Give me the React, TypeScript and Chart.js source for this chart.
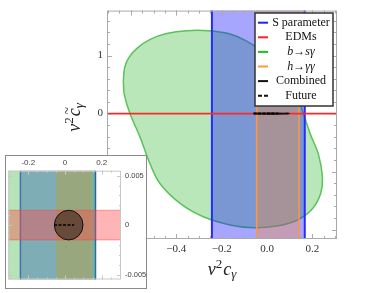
import React, { useEffect, useRef } from "react";
import { Chart, registerables } from "chart.js";

Chart.register(...registerables);

// ---------------- data ----------------
// b -> s gamma allowed region (closed boundary)
const greenX = [
  -0.633, -0.627, -0.608, -0.572, -0.515, -0.442, -0.354, -0.26, -0.17, -0.09,
  -0.01, 0.07, 0.125, 0.156, 0.19, 0.226, 0.244, 0.236, 0.2, 0.131,
  0.043, -0.06, -0.163, -0.281, -0.383, -0.471, -0.515, -0.559, -0.604, -0.629,
  -0.633,
];
const greenY = [
  0.56, 0.8, 0.97, 1.13, 1.28, 1.38, 1.43, 1.43, 1.38, 1.25,
  1.04, 0.75, 0.42, 0.05, -0.35, -0.7, -1.1, -1.38, -1.64, -1.84,
  -1.94, -1.97, -1.92, -1.78, -1.55, -1.21, -0.87, -0.41, 0.0, 0.33,
  0.56,
];
const sParamRange = [-0.243, 0.166];
const hggRange = [-0.046, 0.141];
const edmRange = [-0.0015, 0.0015];
const combinedCenter = [0.02, 0];
const combinedRadius = [0.078, 0.0015];
const futureX = [-0.06, 0.05];
const futureY = [0, 0];

const legendLabels = ["S parameter", "EDMs", "b\u2192s\u03B3", "h\u2192\u03B3\u03B3", "Combined", "Future"];
const legendItalic = [false, false, true, true, false, false];
const legendColors = ["#2020ff", "#ff2020", "#22bb22", "#ff9933", "#111111", "#111111"];
const legendDashed = [false, false, false, false, false, true];

const mainXTicks = [-0.6, -0.4, -0.2, 0, 0.2];
const mainXTickLabels = ["\u22120.6", "\u22120.4", "\u22120.2", "0.0", "0.2"];
const mainYTicks = [-2, -1, 0, 1];
const mainYTickLabels = ["\u22122", "\u22121", "0", "1"];
const insetXTicks = [-0.2, 0, 0.2];
const insetXTickLabels = ["-0.2", "0", "0.2"];
const insetYTicks = [-0.005, 0, 0.005];
const insetYTickLabels = ["-0.005", "0", "0.005"];

// ---------------- helpers ----------------
const BIG = 50;
function band(r: number[]) {
  return [
    { x: r[0], y: -BIG },
    { x: r[0], y: BIG },
    { x: r[1], y: BIG },
    { x: r[1], y: -BIG },
    { x: r[0], y: -BIG },
  ];
}
function hband(r: number[]) {
  return [
    { x: -BIG, y: r[0] },
    { x: BIG, y: r[0] },
    { x: BIG, y: r[1] },
    { x: -BIG, y: r[1] },
    { x: -BIG, y: r[0] },
  ];
}
function steps(a: number, b: number, s: number) {
  const out: number[] = [];
  const n = Math.round((b - a) / s);
  for (let i = 0; i <= n; i++) out.push(a + i * s);
  return out;
}
const greenPts = greenX.map((x, i) => ({ x, y: greenY[i] }));

function drawFrame(chart: any, o: any) {
  const { ctx, chartArea: a, scales } = chart;
  const x = scales.x, y = scales.y;
  ctx.save();
  ctx.strokeStyle = o.color;
  ctx.lineWidth = 1;
  ctx.strokeRect(a.left + 0.5, a.top + 0.5, a.width - 1, a.height - 1);
  ctx.beginPath();
  const tx = (vals: number[], len: number) => {
    for (const v of vals) {
      const p = Math.round(x.getPixelForValue(v)) + 0.5;
      if (p < a.left + 1 || p > a.right - 1) continue;
      ctx.moveTo(p, a.bottom);
      ctx.lineTo(p, a.bottom - len);
      ctx.moveTo(p, a.top);
      ctx.lineTo(p, a.top + len);
    }
  };
  const ty = (vals: number[], len: number) => {
    for (const v of vals) {
      const p = Math.round(y.getPixelForValue(v)) + 0.5;
      if (p < a.top + 1 || p > a.bottom - 1) continue;
      ctx.moveTo(a.left, p);
      ctx.lineTo(a.left + len, p);
      ctx.moveTo(a.right, p);
      ctx.lineTo(a.right - len, p);
    }
  };
  tx(o.xMajor, o.major);
  tx(o.xMinor, o.minor);
  ty(o.yMajor, o.major);
  ty(o.yMinor, o.minor);
  ctx.stroke();
  ctx.restore();
}

function drawCombined(chart: any, lw: number, dashW: number, fill: string) {
  const { ctx, chartArea: a, scales } = chart;
  const x = scales.x, y = scales.y;
  ctx.save();
  ctx.beginPath();
  ctx.rect(a.left, a.top, a.width, a.height);
  ctx.clip();
  const cx = x.getPixelForValue(combinedCenter[0]);
  const cy = y.getPixelForValue(combinedCenter[1]);
  const rx = Math.abs(x.getPixelForValue(combinedCenter[0] + combinedRadius[0]) - cx);
  const ry = Math.max(0.05, Math.abs(y.getPixelForValue(combinedCenter[1] + combinedRadius[1]) - cy));
  ctx.beginPath();
  ctx.ellipse(cx, cy, rx, ry, 0, 0, Math.PI * 2);
  ctx.fillStyle = fill;
  ctx.fill();
  ctx.lineWidth = lw;
  ctx.strokeStyle = "#111";
  ctx.stroke();
  ctx.setLineDash([3, 1.5]);
  ctx.beginPath();
  ctx.moveTo(x.getPixelForValue(futureX[0]), y.getPixelForValue(futureY[0]));
  ctx.lineTo(x.getPixelForValue(futureX[1]), y.getPixelForValue(futureY[1]));
  ctx.lineWidth = dashW;
  ctx.strokeStyle = "#000";
  ctx.stroke();
  ctx.restore();
}

function drawTitlePieces(ctx: CanvasRenderingContext2D, tilde: boolean) {
  const big = "italic 18px 'Liberation Serif', serif";
  const small = "13px 'Liberation Serif', serif";
  const smallIt = "italic 13px 'Liberation Serif', serif";
  ctx.font = big;
  const wv = ctx.measureText("v").width;
  const wc = ctx.measureText("c").width;
  ctx.font = small;
  const w2 = ctx.measureText("2").width;
  ctx.font = smallIt;
  const wg = ctx.measureText("\u03B3").width;
  const total = wv + w2 + 1 + wc + wg;
  let px = -total / 2;
  ctx.textBaseline = "alphabetic";
  ctx.textAlign = "left";
  ctx.font = big;
  ctx.fillText("v", px, 0);
  px += wv;
  ctx.font = small;
  ctx.fillText("2", px, -7);
  px += w2 + 1;
  ctx.font = big;
  ctx.fillText("c", px, 0);
  if (tilde) {
    ctx.font = "italic 14px 'Liberation Serif', serif";
    ctx.fillText("~", px + 1.5, -8);
  }
  px += wc;
  ctx.font = smallIt;
  ctx.fillText("\u03B3", px, 3);
}

// ---------------- component ----------------
export default function App() {
  const mainRef = useRef<HTMLCanvasElement | null>(null);
  const insetRef = useRef<HTMLCanvasElement | null>(null);

  useEffect(() => {
    const serif = "'Liberation Serif', 'Times New Roman', serif";
    const main = new Chart(mainRef.current as HTMLCanvasElement, {
      type: "scatter",
      data: {
        datasets: [
          {
            data: hband(edmRange),
            showLine: true,
            fill: "shape",
            backgroundColor: "rgba(255,60,60,0.45)",
            borderColor: "rgb(255,40,40)",
            borderWidth: 1.6,
            pointRadius: 0,
            order: 1,
          } as any,
          {
            data: band(hggRange),
            showLine: true,
            fill: "shape",
            backgroundColor: "rgba(255,140,40,0.33)",
            borderColor: "rgb(255,150,60)",
            borderWidth: 1.5,
            pointRadius: 0,
            order: 2,
          },
          {
            data: band(sParamRange),
            showLine: true,
            fill: "shape",
            backgroundColor: "rgba(20,20,255,0.38)",
            borderColor: "rgb(40,40,255)",
            borderWidth: 2,
            pointRadius: 0,
            order: 3,
          },
          {
            data: greenPts,
            showLine: true,
            fill: "shape",
            tension: 0.35,
            backgroundColor: "rgba(80,195,80,0.4)",
            borderColor: "rgb(90,195,90)",
            borderWidth: 1.5,
            pointRadius: 0,
            order: 4,
          },
        ],
      },
      options: {
        animation: false,
        responsive: false,
        maintainAspectRatio: false,
        events: [],
        layout: { padding: { left: 0, right: 53, top: 9, bottom: 0 } },
        plugins: { legend: { display: false }, tooltip: { enabled: false } },
        scales: {
          x: {
            type: "linear",
            min: -0.705,
            max: 0.308,
            grid: { display: false, drawTicks: false },
            border: { display: false },
            afterBuildTicks: (s: any) => {
              s.ticks = mainXTicks.map((v) => ({ value: v }));
            },
            afterFit: (s: any) => {
              s.height = 54;
            },
            ticks: {
              autoSkip: false,
              maxRotation: 0,
              padding: 4,
              color: "#333",
              font: { family: serif, size: 11 },
              callback: (_v: any, i: number) => mainXTickLabels[i],
            },
          },
          y: {
            type: "linear",
            min: -2.163,
            max: 1.776,
            grid: { display: false, drawTicks: false },
            border: { display: false },
            afterBuildTicks: (s: any) => {
              s.ticks = mainYTicks.map((v) => ({ value: v }));
            },
            afterFit: (s: any) => {
              s.width = 107;
            },
            ticks: {
              autoSkip: false,
              padding: 4,
              color: "#333",
              font: { family: serif, size: 11 },
              callback: (_v: any, i: number) => mainYTickLabels[i],
            },
          },
        },
      },
      plugins: [
        {
          id: "mainExtras",
          afterDatasetsDraw(chart: any) {
            drawCombined(chart, 2, 2, "rgba(0,0,0,0.8)");
            drawFrame(chart, {
              color: "#aaaaaa",
              xMajor: mainXTicks,
              xMinor: steps(-0.7, 0.3, 0.05),
              yMajor: mainYTicks,
              yMinor: steps(-2.2, 1.8, 0.2),
              major: 5,
              minor: 3,
            });
          },
          afterDraw(chart: any) {
            const ctx = chart.ctx as CanvasRenderingContext2D;
            // legend box
            ctx.save();
            const bx = 255, by = 13, bw = 78, bh = 93;
            ctx.fillStyle = "#fff";
            ctx.fillRect(bx, by, bw, bh);
            ctx.strokeStyle = "#333";
            ctx.lineWidth = 1.5;
            ctx.strokeRect(bx, by, bw, bh);
            legendLabels.forEach((lab, i) => {
              const yy = 22.7 + i * 14.6;
              ctx.beginPath();
              ctx.setLineDash(legendDashed[i] ? [4, 2] : []);
              ctx.strokeStyle = legendColors[i];
              ctx.lineWidth = 2;
              ctx.moveTo(258, yy);
              ctx.lineTo(268, yy);
              ctx.stroke();
              ctx.setLineDash([]);
              ctx.fillStyle = "#111";
              ctx.font = (legendItalic[i] ? "italic " : "") + "12px " + serif;
              ctx.textAlign = "center";
              ctx.textBaseline = "middle";
              ctx.fillText(lab, 301, yy);
            });
            ctx.restore();
            // axis titles
            ctx.save();
            ctx.fillStyle = "#222";
            ctx.translate(222, 275);
            drawTitlePieces(ctx, false);
            ctx.restore();
            ctx.save();
            ctx.fillStyle = "#222";
            ctx.translate(80, 117.5);
            ctx.rotate(-Math.PI / 2);
            drawTitlePieces(ctx, true);
            ctx.restore();
          },
        },
      ],
    } as any);

    const sans = "'Liberation Sans', Arial, sans-serif";
    const inset = new Chart(insetRef.current as HTMLCanvasElement, {
      type: "scatter",
      data: {
        datasets: [
          {
            data: hband(edmRange),
            showLine: true,
            fill: "shape",
            backgroundColor: "rgba(255,70,70,0.4)",
            borderColor: "rgba(255,60,60,0.45)",
            borderWidth: 1,
            pointRadius: 0,
            order: 1,
          } as any,
          {
            data: greenPts,
            showLine: true,
            fill: "shape",
            tension: 0,
            backgroundColor: "rgba(80,190,80,0.42)",
            borderColor: "rgb(80,190,80)",
            borderWidth: 1.5,
            pointRadius: 0,
            order: 2,
          },
          {
            data: band(hggRange),
            showLine: true,
            fill: "shape",
            backgroundColor: "rgba(255,140,40,0.45)",
            borderColor: "rgba(255,150,60,0.3)",
            borderWidth: 1,
            pointRadius: 0,
            order: 3,
          },
          {
            data: band(sParamRange),
            showLine: true,
            fill: "shape",
            backgroundColor: "rgba(20,20,255,0.4)",
            borderColor: "rgba(40,40,255,0.9)",
            borderWidth: 1.5,
            pointRadius: 0,
            order: 4,
          },
        ],
      },
      options: {
        animation: false,
        responsive: false,
        maintainAspectRatio: false,
        events: [],
        layout: { padding: { left: 2.3, right: 0, top: 0, bottom: 1.3 } },
        plugins: { legend: { display: false }, tooltip: { enabled: false } },
        scales: {
          x: {
            type: "linear",
            position: "top",
            min: -0.309,
            max: 0.305,
            grid: { display: false, drawTicks: false },
            border: { display: false },
            afterBuildTicks: (s: any) => {
              s.ticks = insetXTicks.map((v) => ({ value: v }));
            },
            afterFit: (s: any) => {
              s.height = 14.7;
            },
            ticks: {
              autoSkip: false,
              maxRotation: 0,
              padding: 3,
              color: "#444",
              font: { family: sans, size: 8 },
              callback: (_v: any, i: number) => insetXTickLabels[i],
            },
          },
          y: {
            type: "linear",
            position: "right",
            min: -0.0055,
            max: 0.0055,
            grid: { display: false, drawTicks: false },
            border: { display: false },
            afterBuildTicks: (s: any) => {
              s.ticks = insetYTicks.map((v) => ({ value: v }));
            },
            afterFit: (s: any) => {
              s.width = 25;
            },
            ticks: {
              autoSkip: false,
              padding: 4,
              color: "#444",
              font: { family: sans, size: 7.5 },
              callback: (_v: any, i: number) => insetYTickLabels[i],
            },
          },
        },
      },
      plugins: [
        {
          id: "insetExtras",
          afterDatasetsDraw(chart: any) {
            drawCombined(chart, 1, 1.5, "rgba(30,30,20,0.55)");
            drawFrame(chart, {
              color: "#c8c8c8",
              xMajor: insetXTicks,
              xMinor: steps(-0.3, 0.3, 0.05),
              yMajor: insetYTicks,
              yMinor: steps(-0.005, 0.005, 0.001),
              major: 4,
              minor: 2,
            });
          },
        },
      ],
    } as any);

    return () => {
      main.destroy();
      inset.destroy();
    };
  }, []);

  return (
    <div style={{ position: "absolute", left: 0, top: 0, width: 390, height: 293, background: "#fff", overflow: "hidden" }}>
      <canvas ref={mainRef} width={390} height={293} style={{ position: "absolute", left: 0, top: 0, width: 390, height: 293 }} />
      <div
        style={{
          position: "absolute",
          left: 5,
          top: 155,
          width: 142,
          height: 134,
          boxSizing: "border-box",
          border: "1px solid #8a8a8a",
          background: "#fff",
        }}
      >
        <canvas ref={insetRef} width={140} height={132} style={{ display: "block", width: 140, height: 132 }} />
      </div>
    </div>
  );
}
